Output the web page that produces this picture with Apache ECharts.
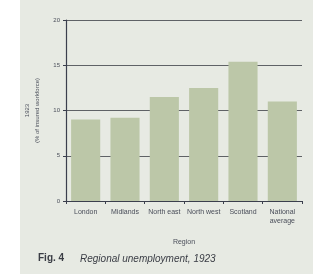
<!DOCTYPE html>
<html><head><meta charset="utf-8">
<script src="https://cdn.jsdelivr.net/npm/echarts@6/dist/echarts.min.js"></script>
<style>html,body{margin:0;padding:0;background:#fff}#c{width:326px;height:274px}</style>
</head><body><div id="c"></div>
<script>
const categories = ['London', 'Midlands', 'North east', 'North west', 'Scotland', 'National\naverage'];
const unemployment = [9.0, 9.2, 11.5, 12.5, 15.4, 11.0];
const yTicks = [0, 5, 10, 15, 20];

const chart = echarts.init(document.getElementById('c'));
chart.setOption({
  backgroundColor: '#ffffff',
  animation: false,
  graphic: [
    { type: 'rect', z: -10, shape: { x: 20, y: 0, width: 293, height: 274 }, style: { fill: '#e7eae3' } },
    { type: 'text', left: 38, top: 253, style: { text: 'Fig. 4', font: 'bold 10px Liberation Sans', fill: '#3a3d45' } },
    { type: 'text', left: 80, top: 254, style: { text: 'Regional unemployment, 1923', font: 'italic 10px Liberation Sans', fill: '#3a3d45' } }
  ],
  grid: { left: 66, right: 24, top: 20, bottom: 73 },
  xAxis: {
    type: 'category', data: categories,
    name: 'Region', nameLocation: 'middle', nameGap: 38,
    nameTextStyle: { fontSize: 7, color: '#4a4e5a', fontFamily: 'Liberation Sans' },
    axisLine: { lineStyle: { color: '#3b3f4d', width: 1.2 } },
    axisTick: { show: true, lineStyle: { color: '#3b3f4d' }, length: 3 },
    axisLabel: { fontSize: 7, color: '#4a4e5a', fontFamily: 'Liberation Sans', interval: 0, margin: 7, lineHeight: 9 }
  },
  yAxis: {
    type: 'value', min: 0, max: 20, interval: 5,
    name: '1923\n(% of insured workforce)', nameLocation: 'middle', nameGap: 20,
    nameTextStyle: { fontSize: 6, color: '#4a4e5a', fontFamily: 'Liberation Sans', lineHeight: 10 },
    axisLine: { show: true, lineStyle: { color: '#3b3f4d', width: 1.2 } },
    axisTick: { show: true, length: 3, lineStyle: { color: '#3b3f4d' } },
    axisLabel: { fontSize: 6, color: '#4a4e5a', fontFamily: 'Liberation Sans', margin: 6,
      formatter: v => yTicks.includes(v) ? String(v) : '' },
    splitLine: { show: true, lineStyle: { color: '#5f6266', width: 1 } }
  },
  series: [{
    type: 'bar', data: unemployment, barWidth: '74%',
    itemStyle: { color: '#bcc7a8' }
  }]
});
</script></body></html>
